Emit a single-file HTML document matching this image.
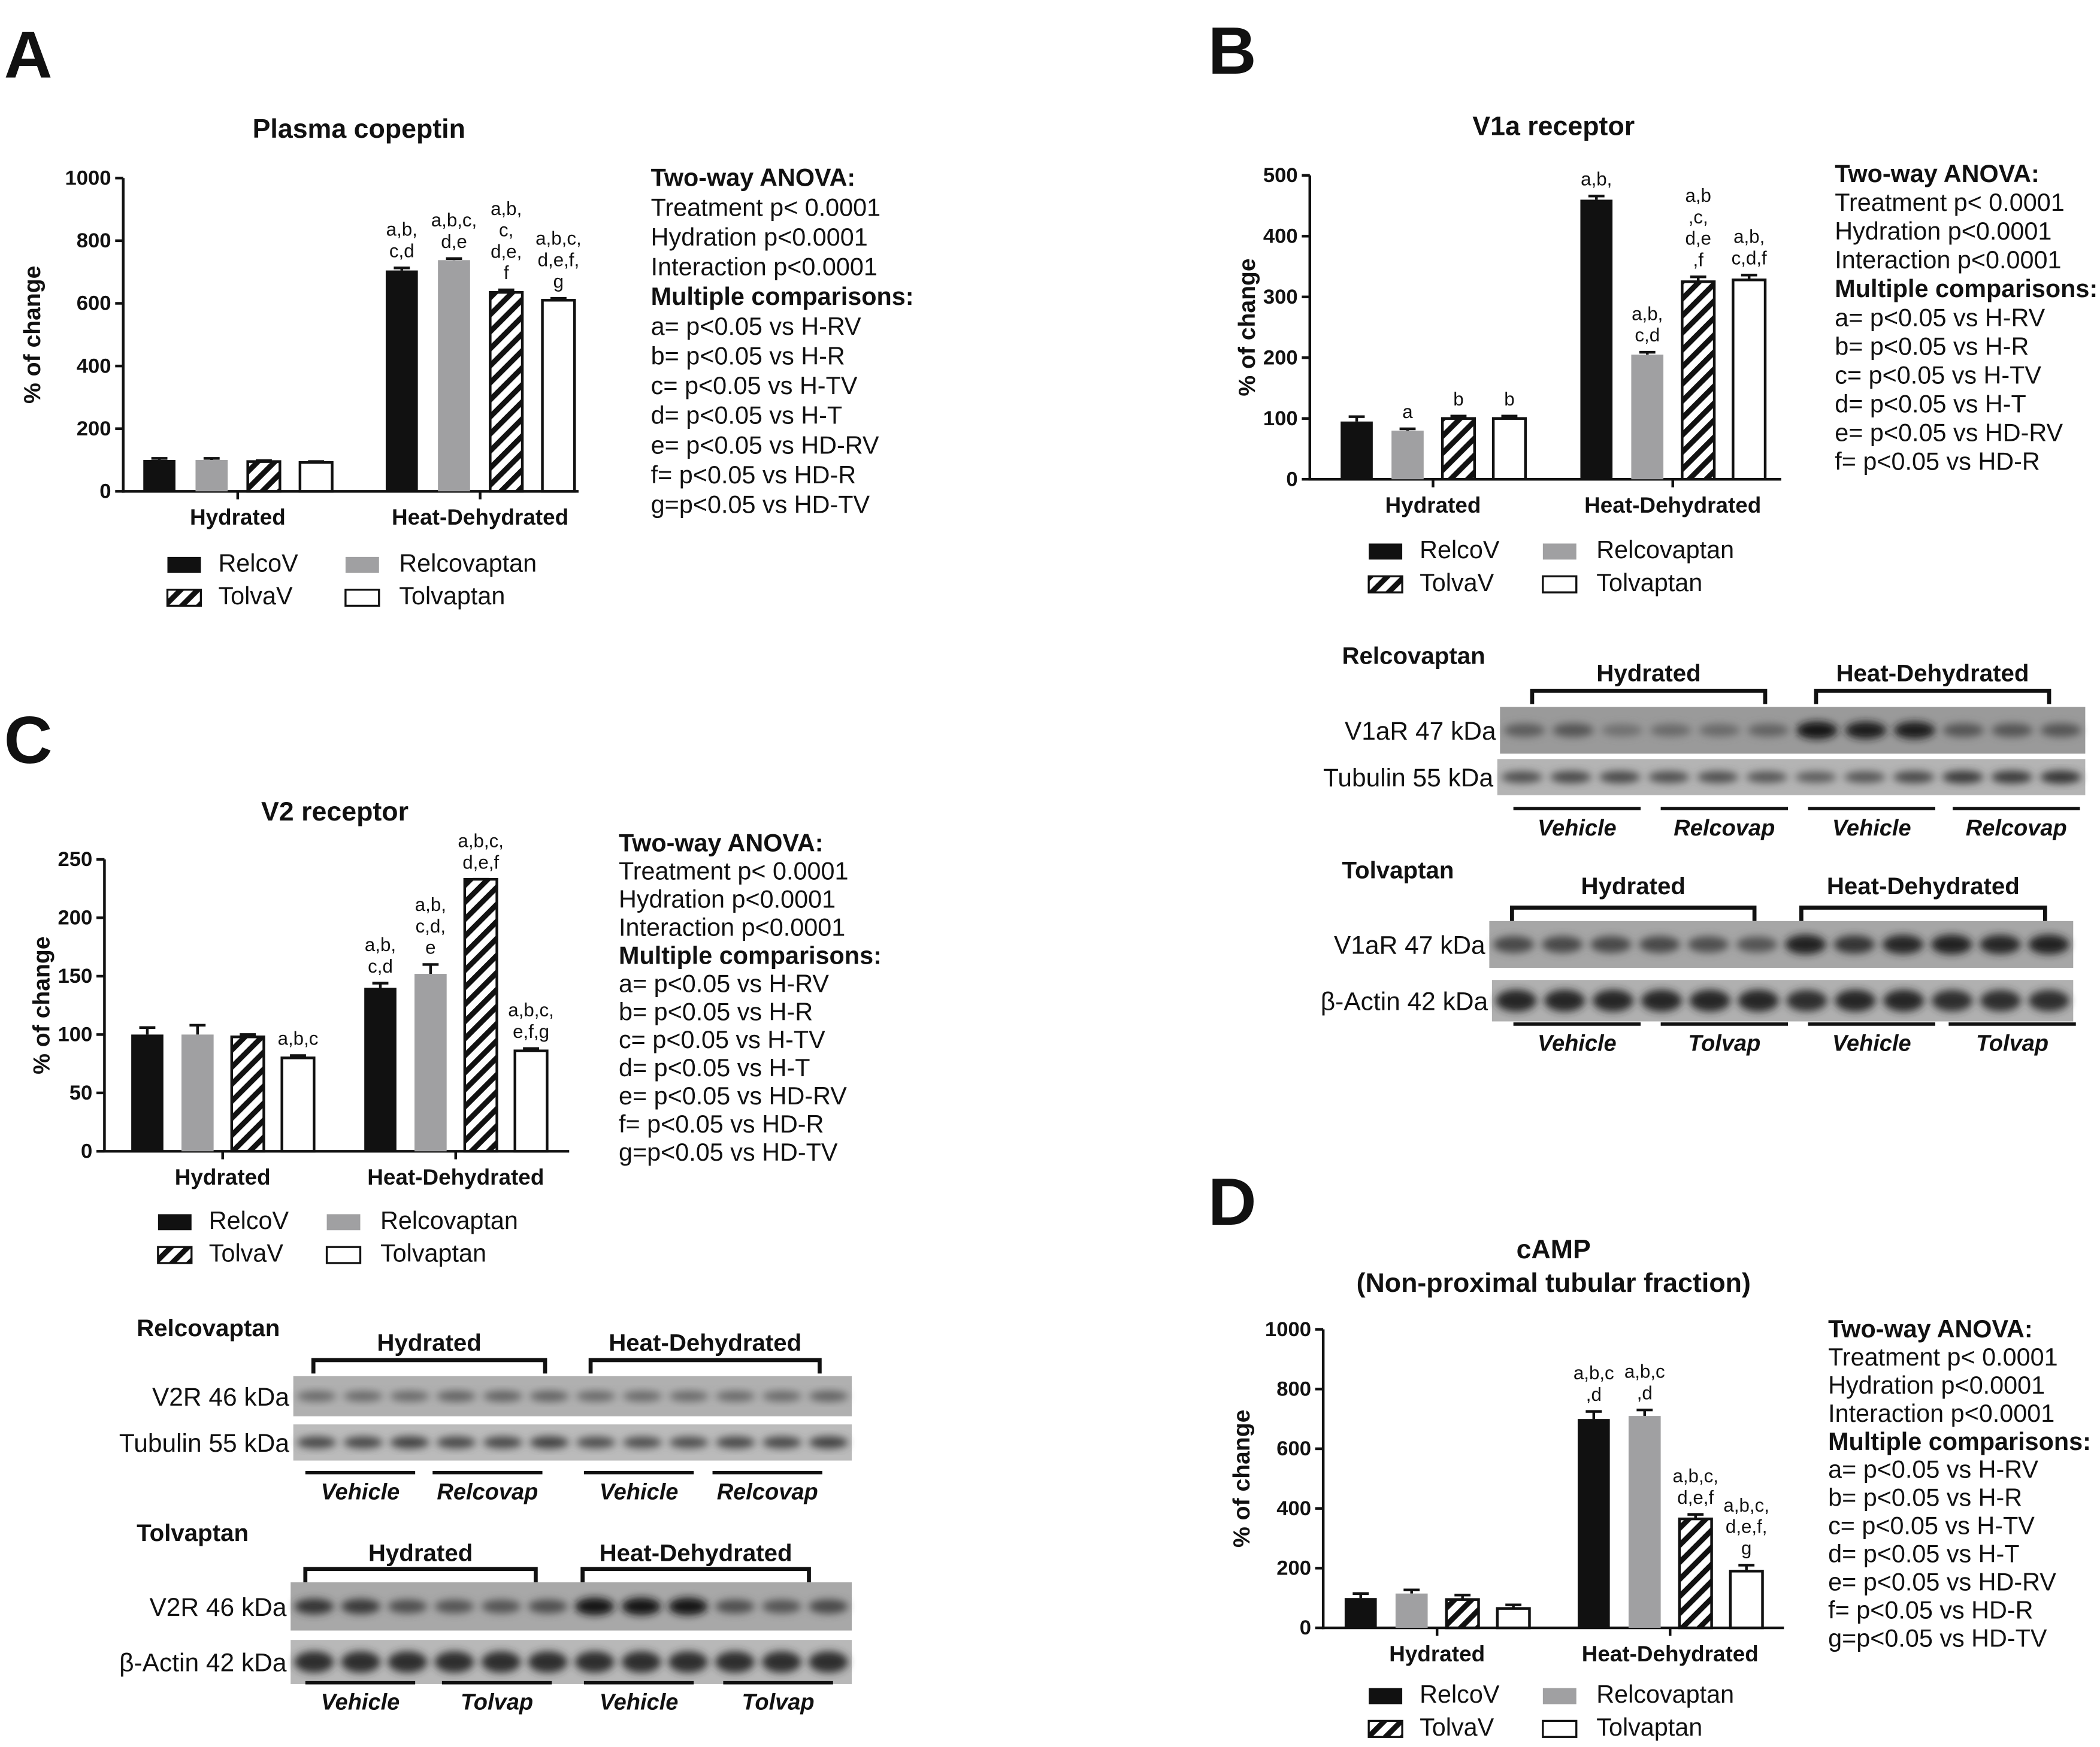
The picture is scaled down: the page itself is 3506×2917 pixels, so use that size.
<!DOCTYPE html>
<html><head><meta charset="utf-8"><style>
html,body{margin:0;padding:0;background:#fff;}
svg{display:block;}
text{font-family:"Liberation Sans",Arial,sans-serif;fill:#111;}
</style></head><body>
<svg id="fig" width="3506" height="2917" viewBox="0 0 1568 1305" preserveAspectRatio="none" xmlns="http://www.w3.org/2000/svg">
<defs>
<pattern id="hatch" patternUnits="userSpaceOnUse" width="9" height="9" patternTransform="rotate(45)">
<rect width="9" height="9" fill="#fff"/><rect width="4" height="9" fill="#111"/>
</pattern>
<filter id="blur" x="-20%" y="-50%" width="140%" height="200%"><feGaussianBlur stdDeviation="3"/></filter>
</defs>
<g id="root"></g>
</svg>
<script>
// ---------- DATA ----------
const groups = ["Hydrated", "Heat-Dehydrated"];
const series = ["RelcoV", "Relcovaptan", "TolvaV", "Tolvaptan"];
const ticksA = [0, 200, 400, 600, 800, 1000];
const valuesA = [100, 100, 95, 92, 705, 738, 635, 610];
const errorsA = [5, 5, 3, 3, 8, 5, 8, 6];
const annotA = [[], [], [], [], ["a,b,", "c,d"], ["a,b,c,", "d,e"], ["a,b,", "c,", "d,e,", "f"], ["a,b,c,", "d,e,f,", "g"]];
const ticksB = [0, 100, 200, 300, 400, 500];
const valuesB = [95, 80, 100, 100, 460, 205, 325, 328];
const errorsB = [8, 3, 4, 4, 6, 4, 8, 8];
const annotB = [[], ["a"], ["b"], ["b"], ["a,b,"], ["a,b,", "c,d"], ["a,b", ",c,", "d,e", ",f"], ["a,b,", "c,d,f"]];
const ticksC = [0, 50, 100, 150, 200, 250];
const valuesC = [100, 100, 98, 80, 140, 152, 233, 86];
const errorsC = [6, 8, 2, 2, 4, 8, 0, 2];
const annotC = [[], [], [], ["a,b,c"], ["a,b,", "c,d"], ["a,b,", "c,d,", "e"], ["a,b,c,", "d,e,f"], ["a,b,c,", "e,f,g"]];
const ticksD = [0, 200, 400, 600, 800, 1000];
const valuesD = [100, 115, 95, 65, 700, 710, 365, 190];
const errorsD = [15, 12, 15, 12, 25, 20, 15, 20];
const annotD = [[], [], [], [], ["a,b,c", ",d"], ["a,b,c", ",d"], ["a,b,c,", "d,e,f"], ["a,b,c,", "d,e,f,", "g"]];
const statsA = ["Two-way  ANOVA:", "Treatment p< 0.0001", "Hydration p<0.0001", "Interaction p<0.0001", "Multiple comparisons:", "a= p<0.05 vs H-RV", "b= p<0.05 vs H-R", "c= p<0.05 vs H-TV", "d= p<0.05 vs H-T", "e= p<0.05 vs HD-RV", "f= p<0.05 vs HD-R", "g=p<0.05 vs HD-TV"];
const statsB = statsA.slice(0, 11);
const blotB1 = [0.45,0.5,0.3,0.35,0.35,0.4,1,0.95,0.95,0.5,0.5,0.5];
const blotB2 = [0.55,0.6,0.6,0.55,0.55,0.5,0.45,0.5,0.6,0.7,0.7,0.75];
const blotB3 = [0.6,0.6,0.6,0.6,0.55,0.5,0.9,0.75,0.85,0.9,0.85,0.9];
const blotB4 = [0.85,0.85,0.85,0.85,0.85,0.85,0.8,0.85,0.85,0.8,0.8,0.8];
const blotC1 = [0.35,0.35,0.35,0.4,0.4,0.4,0.35,0.35,0.35,0.35,0.35,0.4];
const blotC2 = [0.6,0.6,0.65,0.6,0.6,0.65,0.55,0.55,0.55,0.6,0.6,0.65];
const blotC3 = [0.75,0.7,0.55,0.5,0.5,0.55,1,1,1,0.55,0.5,0.6];
const blotC4 = [0.8,0.8,0.8,0.8,0.8,0.8,0.8,0.8,0.8,0.8,0.8,0.8];

// ---------- helpers ----------
const NS = "http://www.w3.org/2000/svg";
const root = document.getElementById("root");
function mk(tag, attrs, parent) {
  const e = document.createElementNS(NS, tag);
  for (const k in attrs) e.setAttribute(k, attrs[k]);
  (parent || root).appendChild(e);
  return e;
}
function txt(s, x, y, size, weight, anchor, parent, extra) {
  const t = mk("text", Object.assign({x: x, y: y, "font-size": size, "font-weight": weight || "normal", "text-anchor": anchor || "start"}, extra || {}), parent);
  t.textContent = s;
  return t;
}
const fills = ["#111", "#a0a0a2", "url(#hatch)", "#fff"];

function chart(cfg, values, errors, annots, ticks) {
  const g = mk("g", {});
  
  
  const max = ticks[ticks.length - 1];
  const yScale = v => cfg.y0 - (v / max) * (cfg.y0 - cfg.yTop);
  const xBar = i => (i < 4 ? cfg.g1 : cfg.g2) + (i % 4) * cfg.sp;
  cfg.title.forEach((s, k) => {
    const t = txt(s, cfg.titleX, cfg.titleY + k * 25, 20, "bold", "middle", g);
    
    
  });
  const ax = mk("line", {x1: cfg.ox, y1: cfg.yTop, x2: cfg.ox, y2: cfg.y0 + 1, stroke: "#111", "stroke-width": 2}, g);
  
  
  ticks.forEach(v => {
    const y = yScale(v);
    mk("line", {x1: cfg.ox - 6, y1: y, x2: cfg.ox, y2: y, stroke: "#111", "stroke-width": 2}, g);
    const t = txt(String(v), cfg.ox - 9, y + 5, 15.5, "bold", "end", g);
    
    
  });
  const yt = txt("% of change", 0, 0, 17.5, "bold", "middle", g, {transform: `translate(${cfg.ytX},${(cfg.yTop + cfg.y0) / 2}) rotate(-90)`});
  
  
  const xa = mk("line", {x1: cfg.ox - 1, y1: cfg.y0, x2: cfg.xEnd, y2: cfg.y0, stroke: "#111", "stroke-width": 2}, g);
  
  
  groups.forEach((name, gi) => {
    const cx = (gi === 0 ? cfg.g1 : cfg.g2) + (3 * cfg.sp + cfg.bw) / 2;
    mk("line", {x1: cx, y1: cfg.y0, x2: cx, y2: cfg.y0 + 6, stroke: "#111", "stroke-width": 2}, g);
    const t = txt(name, cx, cfg.y0 + 25, 16.5, "bold", "middle", g);
    
    
  });
  values.forEach((v, i) => {
    const x = xBar(i), y = yScale(v), ye = yScale(v + errors[i]);
    const cx = x + cfg.bw / 2;
    const el = mk("line", {x1: cx, y1: y, x2: cx, y2: ye, stroke: "#111", "stroke-width": 2}, g);
    
    
    mk("line", {x1: cx - 6, y1: ye, x2: cx + 6, y2: ye, stroke: "#111", "stroke-width": 2}, g);
    const r = mk("rect", {x: x, y: y, width: cfg.bw, height: cfg.y0 - y, fill: fills[i % 4], stroke: (i % 4) >= 2 ? "#111" : "none", "stroke-width": 2}, g);
    
    
    const lines = annots[i];
    lines.forEach((s, k) => {
      const yy = ye - 8 - (lines.length - 1 - k) * 16;
      const t = txt(s, cx, yy, 14, "normal", "middle", g);
      
      
    });
  });
  series.forEach((s, i) => {
    const col = i === 0 || i === 2 ? 0 : 1;
    const row = i < 2 ? 0 : 1;
    const lx = col === 0 ? cfg.lx1 : cfg.lx2;
    const ly = cfg.ly + row * 24.5;
    const sw = mk("rect", {x: lx, y: ly - 11, width: 25, height: 12, fill: fills[i], stroke: i >= 2 ? "#111" : "none", "stroke-width": 1.5}, g);
    
    
    const t = txt(s, lx + (col === 0 ? 38 : 40), ly, 18.5, "normal", "start", g);
    
    
  });
  cfg.stats.forEach((s, k) => {
    const bold = k === 0 || k === 4;
    const t = txt(s, cfg.sx, cfg.sy + k * cfg.sStep, 18.5, bold ? "bold" : "normal", "start", g);
    
    
  });
  const L = txt(cfg.letter, cfg.letX, cfg.letY, 50, "bold", "start", g);
  
  
}

chart({name: "chart-plasma-copeptin", letter: "A", letX: 3, letY: 58, title: ["Plasma copeptin"], titleX: 268, titleY: 103,
  ox: 92, y0: 367, yTop: 133, xEnd: 432, g1: 107, g2: 288, sp: 39, bw: 24, ytX: 30,
  lx1: 125, lx2: 258, ly: 427, stats: statsA, sx: 486, sy: 139, sStep: 22.2}, valuesA, errorsA, annotA, ticksA);
chart({name: "chart-v1a-receptor", letter: "B", letX: 902, letY: 55, title: ["V1a receptor"], titleX: 1160, titleY: 101,
  ox: 978, y0: 358, yTop: 131, xEnd: 1330, g1: 1001, g2: 1180, sp: 38, bw: 24, ytX: 937,
  lx1: 1022, lx2: 1152, ly: 417, stats: statsB, sx: 1370, sy: 136, sStep: 21.5}, valuesB, errorsB, annotB, ticksB);
chart({name: "chart-v2-receptor", letter: "C", letX: 3, letY: 570, title: ["V2 receptor"], titleX: 250, titleY: 613,
  ox: 78, y0: 860, yTop: 642, xEnd: 425, g1: 98, g2: 272, sp: 37.5, bw: 24, ytX: 37,
  lx1: 118, lx2: 244, ly: 918, stats: statsA, sx: 462, sy: 636, sStep: 21}, valuesC, errorsC, annotC, ticksC);
chart({name: "chart-camp", letter: "D", letX: 902, letY: 915, title: ["cAMP", "(Non-proximal tubular fraction)"], titleX: 1160, titleY: 940,
  ox: 988, y0: 1216, yTop: 993, xEnd: 1332, g1: 1004, g2: 1178, sp: 38, bw: 24, ytX: 933,
  lx1: 1022, lx2: 1152, ly: 1272, stats: statsA, sx: 1365, sy: 999, sStep: 21}, valuesD, errorsD, annotD, ticksD);

// ---------- blots ----------
function blot(name, label, x, y, w, h, lanes, bg, bandH) {
  const g = mk("g", {});
  
  
  mk("rect", {x: x, y: y, width: w, height: h, fill: bg}, g);
  const lw = w / lanes.length;
  const bands = mk("g", {filter: "url(#blur)"}, g);
  lanes.forEach((v, i) => {
    const c = Math.round(150 - v * 130);
    const e = mk("ellipse", {cx: x + lw * (i + 0.5), cy: y + h / 2, rx: lw * 0.42, ry: bandH * (0.6 + v * 0.5), fill: `rgb(${c},${c},${c})`}, bands);
    
    
  });
  const t = txt(label, x - 3, y + h / 2 + 7, 19, "normal", "end", g);
  
  
}
function bracket(label, x1, x2, y, ty) {
  const g = mk("g", {});
  
  
  mk("path", {d: `M${x1},${y + 10} L${x1},${y} L${x2},${y} L${x2},${y + 10}`, fill: "none", stroke: "#111", "stroke-width": 3}, g);
  txt(label, (x1 + x2) / 2, ty, 18, "bold", "middle", g);
}
function treat(labels, xs, w, y) {
  labels.forEach((s, i) => {
    const l = mk("line", {x1: xs[i], y1: y, x2: xs[i] + w, y2: y, stroke: "#111", "stroke-width": 2.5});
    
    
    const t = txt(s, xs[i] + w / 2, y + 20, 17, "bold", "middle", null, {"font-style": "italic"});
    
    
  });
}
function heading(s, x, y) {
  const t = txt(s, x, y, 18, "bold", "start");
  
  
}
heading("Relcovaptan", 1002, 496);
bracket("Hydrated", 1144, 1318, 516, 509);
bracket("Heat-Dehydrated", 1356, 1530, 516, 509);
blot("blot-b-v1ar-relcovaptan", "V1aR 47 kDa", 1120, 528, 437, 35, blotB1, "#9a9a9a", 6);
blot("blot-b-tubulin", "Tubulin 55 kDa", 1118, 567, 439, 27, blotB2, "#b4b4b4", 5);
treat(["Vehicle", "Relcovap", "Vehicle", "Relcovap"], [1130, 1240, 1350, 1458], 95, 604);
heading("Tolvaptan", 1002, 656);
bracket("Hydrated", 1129, 1310, 678, 668);
bracket("Heat-Dehydrated", 1345, 1527, 678, 668);
blot("blot-b-v1ar-tolvaptan", "V1aR 47 kDa", 1112, 688, 436, 35, blotB3, "#a6a6a6", 7);
blot("blot-b-actin", "β-Actin 42 kDa", 1114, 732, 434, 31, blotB4, "#b0b0b0", 8);
treat(["Vehicle", "Tolvap", "Vehicle", "Tolvap"], [1130, 1240, 1350, 1455], 95, 765);
heading("Relcovaptan", 102, 998);
bracket("Hydrated", 234, 407, 1016, 1009);
bracket("Heat-Dehydrated", 441, 612, 1016, 1009);
blot("blot-c-v2r-relcovaptan", "V2R 46 kDa", 219, 1028, 417, 30, blotC1, "#b0b0b0", 5);
blot("blot-c-tubulin", "Tubulin 55 kDa", 219, 1064, 417, 27, blotC2, "#bbbbbb", 5);
treat(["Vehicle", "Relcovap", "Vehicle", "Relcovap"], [228, 323, 436, 532], 82, 1100);
heading("Tolvaptan", 102, 1151);
bracket("Hydrated", 228, 400, 1172, 1166);
bracket("Heat-Dehydrated", 435, 604, 1172, 1166);
blot("blot-c-v2r-tolvaptan", "V2R 46 kDa", 217, 1182, 419, 36, blotC3, "#a8a8a8", 6);
blot("blot-c-actin", "β-Actin 42 kDa", 217, 1225, 419, 33, blotC4, "#b8b8b8", 8);
treat(["Vehicle", "Tolvap", "Vehicle", "Tolvap"], [228, 330, 436, 540], 82, 1257);
</script>
</body></html>
